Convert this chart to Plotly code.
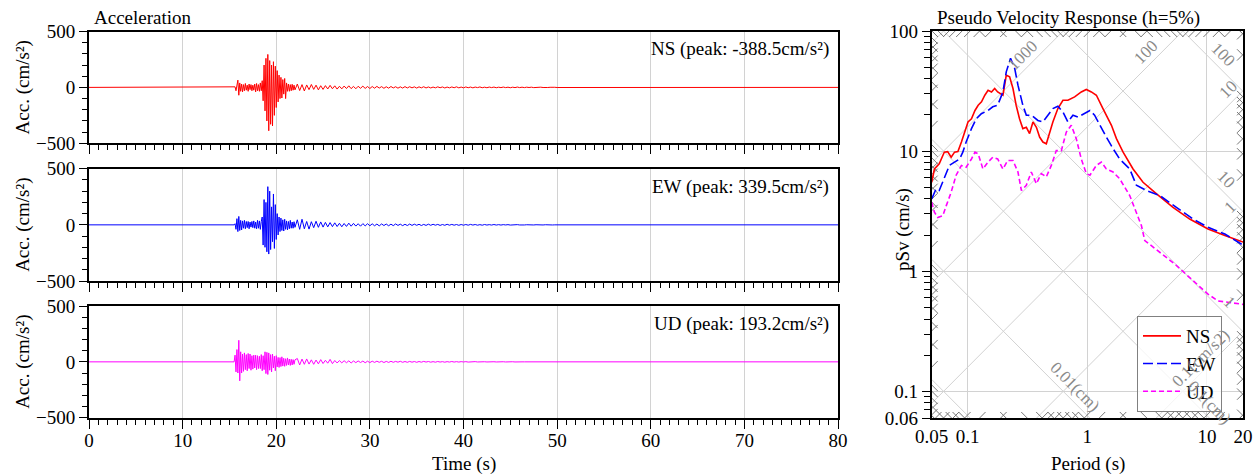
import math
import plotly.graph_objects as go

W, H = 1256, 476
FONT = "Liberation Serif"

# ---------------- acceleration records (cm/s^2) ----------------
RECORD_LENGTH = 80.0
ONSET_TIME = 15.5
DT_STRONG = 0.1
DT_CODA = 0.25

ns_strong = [0, 5, -30, 45, 65, -70, 40, -35, 30, -40,
             25, -30, 35, -25, 20, -35, 30, -20, 25, -30,
             20, -25, 30, -40, 35, -30, 25, -35, 40, -30,
             60, -120, 200, -210, 260, -300, 295, -388, 240, -330,
             200, -345, 230, -250, 190, -180, 150, -130, 110, -100,
             90, -95, 70, -60, 80, -100, 40, -35, 30, -35,
             25, -30, 28, -25, 20, -22]
ns_coda = [30, -28, 25, -32, 22, -20, 26, -18, 20, -22, 15, -18,
           16, -14, 18, -12, 14, -15, 10, -13, 12, -10, 14, -11, 9, -12, 10, -8, 11, -9, 8, -10,
           8, -7, 9, -6, 7, -8, 6, -7, 8, -5, 6, -7, 5, -6, 7, -5, 6, -4, 5, -6,
           5, -4, 6, -5, 4, -5, 3, -4, 5, -3, 4, -5, 3, -4, 4, -3, 5, -4, 3, -4,
           4, -3, 3, -4, 3, -2, 4, -3, 2, -3, 3, -2, 3, -3, 2, -2, 3, -2, 2, -3,
           2, -2, 3, -2, 2, -2, 2, -1, 2, -2, 1, -2, 2, -1, 2, -1, 1, -2, 1, -1]

ew_strong = [0, 10, -40, 55, -60, 75, -50, 40, -45, 35,
             -30, 40, -35, 30, -25, 30, -35, 25, -20, 30,
             -25, 35, -30, 25, -35, 40, -30, 35, -40, 30,
             70, -180, 225, -200, 200, -240, 340, -260, 300, -220,
             160, -150, 275, -210, 180, -130, 100, -90, 70, -60,
             60, -50, 45, -55, 50, -40, 35, -45, 30, -35,
             40, -30, 25, -30, 28, -22]
ew_coda = [45, -40, 50, -35, 30, -38, 28, -25, 32, -22, 26, -20,
           22, -18, 20, -16, 18, -15, 14, -17, 12, -14, 15, -12, 13, -11, 10, -12, 11, -9, 10, -8,
           9, -8, 7, -9, 8, -6, 7, -8, 6, -7, 8, -5, 6, -7, 5, -6, 7, -5, 6, -4,
           5, -6, 4, -5, 6, -4, 5, -3, 4, -5, 3, -4, 5, -3, 4, -3, 3, -4, 3, -3,
           3, -3, 4, -2, 3, -3, 2, -3, 3, -2, 2, -2, 3, -2, 2, -2, 2, -1, 2, -2,
           1, -2, 2, -1, 2, -1, 1, -1, 2, -1, 1, -1, 1, -1, 1, -1, 1, -1, 0, 0]

ud_strong = [0, 60, -90, 110, -100, 193, -170, 90, -100, 70,
             -85, 80, -70, 65, -80, 75, -60, 70, -75, 55,
             -65, 60, -55, 60, -70, 55, -60, 50, -60, 65,
             -80, 55, -70, 90, -105, 85, -113, 80, -75, 65,
             -90, 70, -55, 50, -80, 55, -45, 40, -50, 38,
             -42, 45, -38, 32, -40, 28, -32, 35, -28, 25,
             -32, 23, -28, 20, -22, 18]
ud_coda = [30, -28, 25, -22, 26, -20, 18, -22, 16, -18, 20, -15,
           14, -12, 22, -16, 12, -10, 11, -9, 10, -8, 9, -10, 8, -7, 8, -6, 7, -8, 6, -7,
           6, -5, 6, -4, 5, -6, 4, -5, 5, -4, 4, -3, 5, -4, 3, -4, 4, -3, 3, -4,
           3, -3, 4, -2, 3, -3, 2, -3, 3, -2, 2, -3, 2, -2, 3, -2, 2, -2, 2, -1,
           2, -2, 1, -2, 2, -1, 1, -2, 1, -1, 1, -1, 1, -1, 1, -1, 1, -1, 1, -1,
           1, -1, 1, -1, 0, 0, 0, 0, 0, 0, 0, 0, 0, 0, 0, 0, 0, 0, 0, 0]

components = ["NS", "EW", "UD"]
peaks = [-388.5, 339.5, 193.2]
colors = ["#ff0000", "#0000ff", "#ff00ff"]

# ---------------- pseudo velocity response spectra (h=5%) ----------------
ns_period = [0.05, 0.0527, 0.0578, 0.0637, 0.068, 0.0727, 0.0776, 0.0828, 0.0886, 0.094,
             0.1006, 0.1075, 0.115, 0.1223, 0.1304, 0.139, 0.148, 0.158, 0.168, 0.178,
             0.197, 0.21, 0.224, 0.239, 0.254, 0.271, 0.289, 0.309, 0.329, 0.351,
             0.375, 0.399, 0.425, 0.454, 0.484, 0.515, 0.567, 0.625, 0.688, 0.783,
             0.89, 0.98, 1.08, 1.19, 1.35, 1.59, 1.75, 1.99, 2.41, 2.92,
             3.79, 5.2, 7.17, 10.2, 14.1, 20]
ns_psv = [5.5, 7.1, 7.85, 9.8, 9.9, 8.9, 9.8, 9.9, 11.9, 14.4,
          17.5, 18.6, 21.8, 24.1, 25.7, 29.2, 32.1, 31.1, 33.2, 31.1,
          29.2, 42.8, 41.5, 33.2, 24.1, 18.6, 15.4, 15.8, 14.0, 17.5,
          15.8, 13.1, 11.9, 11.5, 14.4, 17.5, 22.6, 26.5, 26.5, 28.3,
          31.1, 32.6, 31.1, 29.2, 22.6, 16.4, 12.7, 9.8, 7.1, 5.5,
          4.4, 3.4, 2.72, 2.25, 1.98, 1.75]

ew_period = [0.05, 0.0544, 0.0578, 0.0637, 0.0703, 0.0776, 0.0855, 0.091, 0.097, 0.1075,
             0.118, 0.13, 0.148, 0.162, 0.178, 0.197, 0.21, 0.228, 0.247, 0.263,
             0.289, 0.309, 0.34, 0.386, 0.425, 0.468, 0.515, 0.567, 0.625, 0.688,
             0.758, 0.834, 0.95, 1.05, 1.15, 1.27, 1.44, 1.64, 1.86, 2.26,
             2.57, 3.12, 4.03, 5.55, 7.65, 10.2, 14.1, 20]
ew_psv = [4.0, 4.85, 4.7, 5.9, 7.6, 8.1, 8.6, 9.8, 11.9, 15.4,
          18.6, 20.5, 21.8, 23.4, 24.1, 31.1, 45.7, 59.2, 48.9, 35.4,
          24.1, 19.9, 19.9, 18.0, 17.5, 19.9, 22.6, 23.6, 21.2, 17.5,
          19.9, 19.2, 20.5, 21.8, 19.9, 16.4, 13.1, 10.5, 8.6, 7.1,
          5.2, 4.7, 4.27, 3.4, 2.72, 2.32, 2.04, 1.65]

ud_period = [0.05, 0.0527, 0.0562, 0.0619, 0.0661, 0.0727, 0.08, 0.0886, 0.097, 0.1075,
             0.115, 0.1223, 0.134, 0.148, 0.162, 0.178, 0.197, 0.216, 0.239, 0.263,
             0.281, 0.309, 0.34, 0.375, 0.412, 0.454, 0.5, 0.55, 0.606, 0.667,
             0.734, 0.808, 0.89, 0.98, 1.05, 1.19, 1.31, 1.44, 1.64, 1.86,
             2.26, 2.57, 2.83, 3.02, 3.9, 5.37, 7.4, 10.2, 12.4, 16, 20]
ud_psv = [3.75, 3.1, 2.8, 2.9, 3.5, 4.55, 6.3, 7.6, 7.35, 8.6,
          9.8, 9.5, 7.1, 8.1, 8.9, 8.6, 7.1, 8.35, 8.35, 6.7,
          4.7, 5.2, 6.7, 5.35, 6.5, 6.1, 7.6, 10.1, 10.1, 14.4,
          16.4, 12.7, 8.6, 6.5, 6.3, 7.6, 8.1, 7.1, 6.7, 5.9,
          4.27, 3.1, 2.4, 1.8, 1.48, 1.15, 0.86, 0.644, 0.566, 0.548, 0.53]

# tripartite grid values
sd_major = [0.001, 0.01, 0.1, 1, 10, 100]          # displacement (cm)
sa_major = [0.1, 1, 10, 100, 1000, 10000]          # acceleration (cm/s2)
sd_label_value = [100, 10, 1, 0.1, 0.01]
sd_label_text = ["100", "10", "1", "0.1(cm)", "0.01(cm)"]
sd_label_period = [11.6, 12.5, 13.3, 9.0, 0.671]
sa_label_value = [1000, 100, 10, 1, 0.1]
sa_label_text = ["1000", "100", "10", "1", "0.1(cm/s2)"]
sa_label_period = [0.335, 3.64, 17.5, 18.5, 10.2]
minor_mult = [2, 3, 4, 5, 6, 7, 8, 9]

T_MIN, T_MAX = 0.05, 20.0
V_MIN, V_MAX = 0.06, 100.0
TWO_PI = 2 * math.pi

# ---------------- layout geometry (pixels) ----------------
LX0, LX1 = 89, 838
panels_px = [(31.5, 143.3), (168.7, 281.0), (306.0, 417.7)]
RX0, RX1 = 931.7, 1243
RY0, RY1 = 31, 418


def px(x):
    return x / W


def py(y):
    return 1 - y / H


def record(strong, coda):
    t = [0.0]
    a = [0.0]
    for i, v in enumerate(strong):
        t.append(ONSET_TIME + i * DT_STRONG)
        a.append(v)
    t_end = t[-1]
    for i, v in enumerate(coda):
        t.append(t_end + (i + 1) * DT_CODA)
        a.append(v)
    t.append(RECORD_LENGTH)
    a.append(0.0)
    return t, a


fig = go.Figure()

records = [(ns_strong, ns_coda), (ew_strong, ew_coda), (ud_strong, ud_coda)]
for k, (strong, coda) in enumerate(records):
    t, a = record(strong, coda)
    sfx = "" if k == 0 else str(k + 1)
    fig.add_trace(go.Scatter(x=t, y=a, mode="lines", line=dict(color=colors[k], width=1),
                             xaxis="x" + sfx, yaxis="y" + sfx, showlegend=False,
                             hoverinfo="skip"))

# ---- tripartite diagonals ----
GRID_C = "#d2d2d2"
dx, dy = [], []
for sd in sd_major:
    dx += [T_MIN, T_MAX, None]
    dy += [TWO_PI * sd / T_MIN, TWO_PI * sd / T_MAX, None]
for sa in sa_major:
    dx += [T_MIN, T_MAX, None]
    dy += [sa * T_MIN / TWO_PI, sa * T_MAX / TWO_PI, None]
fig.add_trace(go.Scatter(x=dx, y=dy, mode="lines", line=dict(color=GRID_C, width=1),
                         xaxis="x4", yaxis="y4", showlegend=False, hoverinfo="skip"))

# minor diagonal ticks at the frame edges
TICK_DEC = 0.05
lx0, lx1 = math.log10(T_MIN), math.log10(T_MAX)
ly0, ly1 = math.log10(V_MIN), math.log10(V_MAX)
tx, ty = [], []


def add_edge_ticks(c, s):
    # line: ly = c + s*lx
    pts = []
    ly = c + s * lx0
    if ly0 <= ly <= ly1:
        pts.append((lx0, 1))
    ly = c + s * lx1
    if ly0 <= ly <= ly1:
        pts.append((lx1, -1))
    lx = (ly0 - c) / s
    if lx0 < lx < lx1:
        pts.append((lx, s))
    lx = (ly1 - c) / s
    if lx0 < lx < lx1:
        pts.append((lx, -s))
    for lxa, d in pts:
        lxb = lxa + d * TICK_DEC
        tx.extend([10 ** lxa, 10 ** lxb, None])
        ty.extend([10 ** (c + s * lxa), 10 ** (c + s * lxb), None])


for n in range(-5, 4):
    for m in minor_mult:
        v = m * 10 ** n
        add_edge_ticks(math.log10(TWO_PI * v), -1)
for n in range(-3, 5):
    for m in minor_mult:
        v = m * 10 ** n
        add_edge_ticks(math.log10(v / TWO_PI), 1)
fig.add_trace(go.Scatter(x=tx, y=ty, mode="lines", line=dict(color="#777777", width=1),
                         xaxis="x4", yaxis="y4", showlegend=False, hoverinfo="skip"))

# ---- spectra ----
spectra = [(ns_period, ns_psv, "solid"), (ew_period, ew_psv, "10px,4px"),
           (ud_period, ud_psv, "5px,3px")]
for k, (per, psv, dash) in enumerate(spectra):
    fig.add_trace(go.Scatter(x=per, y=psv, mode="lines", name=components[k],
                             line=dict(color=colors[k], width=1.6, dash=dash),
                             xaxis="x4", yaxis="y4", hoverinfo="skip"))

# ---------------- axes ----------------
tickfont = dict(family=FONT, size=19, color="black")
layout_axes = {}
for k, (top, bot) in enumerate(panels_px):
    sfx = "" if k == 0 else str(k + 1)
    layout_axes["xaxis" + sfx] = dict(
        domain=[px(LX0), px(LX1)], range=[0, RECORD_LENGTH], anchor="y" + sfx,
        automargin=False,
        dtick=10, ticks="outside", ticklen=9, tickcolor="black", tickwidth=1,
        minor=dict(dtick=1, ticks="outside", ticklen=5, tickcolor="black", showgrid=False),
        showgrid=True, gridcolor=GRID_C, gridwidth=1, zeroline=False,
        showline=True, mirror=True, linecolor="black", linewidth=2,
        showticklabels=(k == 2), ticklabelstandoff=-5, tickfont=tickfont)
    layout_axes["yaxis" + sfx] = dict(
        domain=[py(bot), py(top)], range=[-500, 500], anchor="x" + sfx,
        automargin=False,
        tickvals=[-500, 0, 500], ticks="outside", ticklen=8, tickcolor="black",
        minor=dict(dtick=100, ticks="outside", ticklen=5, tickcolor="black", showgrid=False),
        showgrid=False, zeroline=False,
        showline=True, mirror=True, linecolor="black", linewidth=2, tickfont=tickfont)

y_minor = [m * 10 ** n for n in range(-2, 2) for m in minor_mult if V_MIN < m * 10 ** n < V_MAX]
layout_axes["xaxis4"] = dict(
    domain=[px(RX0), px(RX1)], type="log", range=[lx0, lx1], anchor="y4",
    automargin=False,
    tickvals=[0.05, 0.1, 1, 10, 20], ticktext=["0.05", "0.1", "1", "10", "20"],
    ticks="", showgrid=True, gridcolor=GRID_C, gridwidth=1, zeroline=False,
    showline=True, mirror=True, linecolor="black", linewidth=2, tickfont=tickfont)
layout_axes["yaxis4"] = dict(
    domain=[py(RY1), py(RY0)], type="log", range=[ly0, ly1], anchor="x4",
    automargin=False,
    tickvals=[0.06, 0.1, 1, 10, 100], ticktext=["0.06", "0.1", "1", "10", "100"],
    ticks="outside", ticklen=8, tickcolor="black",
    minor=dict(tickvals=y_minor, ticks="outside", ticklen=6, tickcolor="black", showgrid=False),
    showgrid=True, gridcolor=GRID_C, gridwidth=1, zeroline=False,
    showline=True, mirror=True, linecolor="black", linewidth=2, tickfont=tickfont)

# ---------------- annotations ----------------
ann = []
txtfont = dict(family=FONT, size=19, color="black")
ann.append(dict(text="Acceleration", x=px(92), y=py(18), xref="paper", yref="paper",
                xanchor="left", yanchor="middle", showarrow=False, font=txtfont))
ann.append(dict(text="Pseudo Velocity Response (h=5%)", x=px(935), y=py(18), xref="paper",
                yref="paper", xanchor="left", yanchor="middle", showarrow=False, font=txtfont))
for k, (top, bot) in enumerate(panels_px):
    ann.append(dict(text="%s (peak: %.1fcm/s²)" % (components[k], peaks[k]),
                    x=px(831), y=py(top + 18), xref="paper", yref="paper",
                    xanchor="right", yanchor="middle", showarrow=False, font=txtfont))
    ann.append(dict(text="Acc. (cm/s²)", x=px(23), y=py((top + bot) / 2), xref="paper",
                    yref="paper", xanchor="center", yanchor="middle", textangle=-90,
                    showarrow=False, font=txtfont))
ann.append(dict(text="Time (s)", x=px((LX0 + LX1) / 2), y=py(464), xref="paper", yref="paper",
                xanchor="center", yanchor="middle", showarrow=False, font=txtfont))
ann.append(dict(text="Period (s)", x=px(1088), y=py(464), xref="paper", yref="paper",
                xanchor="center", yanchor="middle", showarrow=False, font=txtfont))
ann.append(dict(text="pSv (cm/s)", x=px(903), y=py(230), xref="paper", yref="paper",
                xanchor="center", yanchor="middle", textangle=-90, showarrow=False,
                font=txtfont))

labfont = dict(family=FONT, size=17, color="#8a8a8a")
for v, txt, T in zip(sd_label_value, sd_label_text, sd_label_period):
    ann.append(dict(text=txt, x=math.log10(T), y=math.log10(TWO_PI * v / T), xref="x4",
                    yref="y4", textangle=45, xshift=8, yshift=8, showarrow=False,
                    font=labfont))
for v, txt, T in zip(sa_label_value, sa_label_text, sa_label_period):
    ann.append(dict(text=txt, x=math.log10(T), y=math.log10(v * T / TWO_PI), xref="x4",
                    yref="y4", textangle=-45, xshift=-8, yshift=8, showarrow=False,
                    font=labfont))

fig.update_layout(
    width=W, height=H, margin=dict(l=0, r=0, t=0, b=0, autoexpand=False),
    paper_bgcolor="white", plot_bgcolor="white",
    font=dict(family=FONT, size=19, color="black"),
    annotations=ann,
    legend=dict(x=px(1137), y=py(412), xanchor="left", yanchor="bottom",
                bgcolor="rgba(255,255,255,0.75)", bordercolor="#808080", borderwidth=1,
                font=dict(family=FONT, size=19), itemwidth=38),
    **layout_axes,
)

fig.write_html("out.html", config={"displayModeBar": False},
               post_script="document.body.style.margin='0';document.body.style.padding='0';"
                           "document.body.style.overflow='hidden';")
